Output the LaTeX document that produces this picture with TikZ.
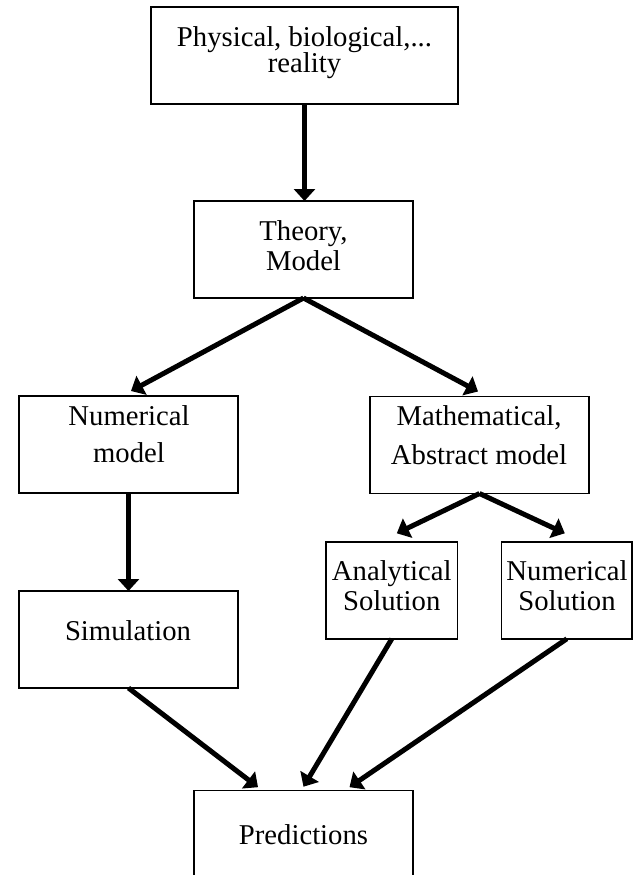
\documentclass[tikz,border=0pt]{standalone}
\usepackage{fontspec}
\setmainfont{Liberation Serif}
\usetikzlibrary{arrows.meta}
\begin{document}
\begin{tikzpicture}[x=1pt,y=-1pt,
  box/.style={draw, line width=1.5pt, inner sep=0pt, outer sep=0pt, minimum height=97pt},
  txt/.style={anchor=base, inner sep=0pt, font=\fontsize{28.7}{30}\selectfont},
  arr/.style={line width=5pt, -{Triangle[width=21pt,length=12pt]}}]
\useasboundingbox (0,0) rectangle (633,875);
\clip (0,0) rectangle (633,875);
% boxes
\node[box, minimum width=307pt] (top) at (304.5,55.5) {};
\node[box, minimum width=219pt] (theory) at (303.5,249.5) {};
\node[box, minimum width=219pt] (num) at (128.5,444.5) {};
\node[box, minimum width=219pt] (math) at (479.5,445) {};
\node[box, minimum width=131.7pt] (anal) at (391.8,590.3) {};
\node[box, minimum width=130.3pt] (numsol) at (566.8,590.3) {};
\node[box, minimum width=219pt] (sim) at (128.5,639.5) {};
\node[box, minimum width=219pt] (pred) at (303.5,839.2) {};
% texts
\node[txt] (top-a) at (304.5,47) {Physical, biological,...};
\node[txt] (top-b) at (304.5,73) {reality};
\node[txt] (theory-a) at (303.5,240) {Theory,};
\node[txt] (theory-b) at (303.5,270) {Model};
\node[txt] (num-a) at (129,425.7) {Numerical};
\node[txt] (num-b) at (129,462) {model};
\node[txt] (math-a) at (479,425.7) {Mathematical,};
\node[txt] (math-b) at (479,464) {Abstract model};
\node[txt] (anal-a) at (391.7,580.7) {Analytical};
\node[txt] (anal-b) at (391.7,610) {Solution};
\node[txt] (numsol-a) at (567,580.7) {Numerical};
\node[txt] (numsol-b) at (567,610) {Solution};
\node[txt] (sim-a) at (128,640) {Simulation};
\node[txt] (pred-a) at (303.5,844.3) {Predictions};
% connectors
\draw[arr] (top.south) -- (top.south |- theory.north);
\draw[arr] (theory.south) -- ([xshift=2.5pt,yshift=5pt]num.north);
\draw[arr] (theory.south) -- ([xshift=-1.5pt,yshift=5pt]math.north);
\draw[arr] (num.south) -- (sim.north);
\draw[arr] (math.south) -- ([xshift=5pt,yshift=8.5pt]anal.north);
\draw[arr] (math.south) -- ([xshift=-2pt,yshift=8.5pt]numsol.north);
\draw[arr] (sim.south) -- ([xshift=-45.5pt,yshift=3.5pt]pred.north);
\draw[arr] (anal.south) -- ([yshift=4pt]pred.north);
\draw[arr] (numsol.south) -- ([xshift=46pt,yshift=3.5pt]pred.north);
\end{tikzpicture}
\end{document}
